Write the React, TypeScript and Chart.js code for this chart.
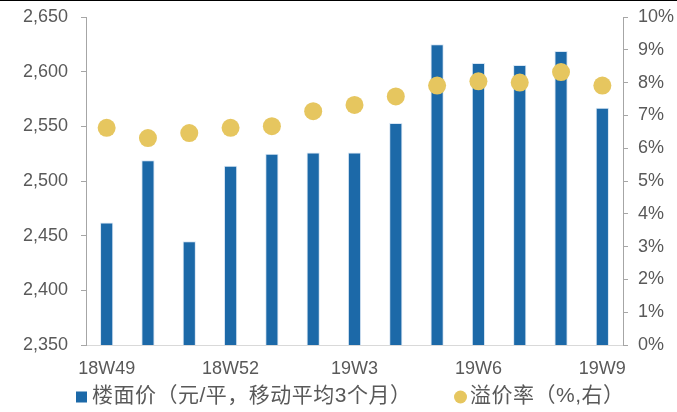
import { useEffect, useRef } from "react";
import { Chart, registerables } from "chart.js";

Chart.register(...registerables);

const categories = ["18W49", "18W50", "18W51", "18W52", "19W1", "19W2", "19W3", "19W4", "19W5", "19W6", "19W7", "19W8", "19W9"];
const floorPrice = [2462, 2519, 2445, 2514, 2525, 2526, 2526, 2553, 2625, 2608, 2606, 2619, 2567];
const premiumRate = [6.62, 6.31, 6.46, 6.62, 6.67, 7.13, 7.32, 7.58, 7.91, 8.04, 8.0, 8.32, 7.91];
const seriesLabels = ["楼面价（元/平，移动平均3个月）", "溢价率（%,右）"];

const BAR_COLOR = "#1c69a8";
const DOT_COLOR = "#e6c65f";
const TEXT_COLOR = "#595959";
const AXIS_COLOR = "#a6a6a6";
const TICK_FONT = { family: "'Liberation Sans', Arial, sans-serif", size: 18 };
const LEGEND_FONT = "21px 'Liberation Sans', 'Noto Sans CJK SC', sans-serif";

const legendPlugin = {
  id: "customLegend",
  afterDraw(chart: any) {
    const ctx = chart.ctx as CanvasRenderingContext2D;
    const ca = chart.chartArea;
    const ds = chart.data.datasets;
    const y = 397;
    ctx.save();
    ctx.font = LEGEND_FONT;
    ctx.textBaseline = "middle";
    ctx.textAlign = "left";
    (ctx as any).letterSpacing = "0.5px";
    let x = ca.left - 10;
    ctx.fillStyle = ds[0].backgroundColor;
    ctx.fillRect(x, y - 5.5, 11, 11);
    ctx.fillStyle = TEXT_COLOR;
    ctx.fillText(ds[0].label, x + 16, y - 1);
    x = ca.left + 368;
    ctx.fillStyle = ds[1].backgroundColor;
    ctx.beginPath();
    ctx.arc(x + 6.5, y, 6.5, 0, Math.PI * 2);
    ctx.fill();
    ctx.fillStyle = TEXT_COLOR;
    ctx.fillText(ds[1].label, x + 16, y - 1);
    ctx.restore();
  },
};

export default function App() {
  const canvasRef = useRef<HTMLCanvasElement | null>(null);

  useEffect(() => {
    if (!canvasRef.current) return;
    const chart = new Chart(canvasRef.current, {
      type: "bar",
      data: {
        labels: categories,
        datasets: [
          {
            type: "bar",
            label: seriesLabels[0],
            data: floorPrice,
            backgroundColor: BAR_COLOR,
            borderColor: "rgba(200,220,240,0.7)",
            borderWidth: { top: 1, left: 1, right: 1, bottom: 0 },
            barPercentage: 0.32,
            categoryPercentage: 1,
            yAxisID: "y",
            order: 2,
          },
          {
            type: "line",
            label: seriesLabels[1],
            data: premiumRate,
            showLine: false,
            backgroundColor: DOT_COLOR,
            borderColor: DOT_COLOR,
            pointRadius: 9,
            pointBorderWidth: 0,
            pointHoverRadius: 9,
            yAxisID: "y1",
            order: 1,
          },
        ],
      },
      options: {
        responsive: false,
        animation: false,
        layout: { padding: { top: 17, left: 0, right: 0, bottom: 27 } },
        plugins: {
          legend: { display: false },
          tooltip: { enabled: false },
        },
        scales: {
          x: {
            grid: { display: false, drawTicks: false },
            border: { display: true, color: "#d9d9d9", width: 1 },
            ticks: {
              autoSkip: false,
              maxRotation: 0,
              minRotation: 0,
              padding: 13,
              color: TEXT_COLOR,
              font: TICK_FONT,
              callback: (_v: any, i: number) => (i % 3 === 0 ? categories[i] : ""),
            },
            afterFit: (s: any) => {
              s.height = 40;
              s.paddingLeft = 0;
              s.paddingRight = 0;
            },
          },
          y: {
            position: "left",
            min: 2350,
            max: 2650,
            ticks: {
              stepSize: 50,
              padding: 13,
              color: TEXT_COLOR,
              font: TICK_FONT,
              callback: (v: any) => Number(v).toLocaleString("en-US"),
            },
            grid: { drawOnChartArea: false, color: AXIS_COLOR, tickLength: 5 },
            border: { color: AXIS_COLOR, width: 1 },
            afterFit: (s: any) => {
              s.width = 86;
              s.paddingTop = 0;
              s.paddingBottom = 0;
            },
          },
          y1: {
            position: "right",
            min: 0,
            max: 10,
            ticks: {
              stepSize: 1,
              padding: 10,
              color: TEXT_COLOR,
              font: TICK_FONT,
              callback: (v: any) => `${v}%`,
            },
            grid: { drawOnChartArea: false, color: AXIS_COLOR, tickLength: 5 },
            border: { color: AXIS_COLOR, width: 1 },
            afterFit: (s: any) => {
              s.width = 54;
              s.paddingTop = 0;
              s.paddingBottom = 0;
            },
          },
        },
      },
      plugins: [legendPlugin],
    });
    return () => chart.destroy();
  }, []);

  return (
    <div style={{ position: "absolute", left: 0, top: 0, width: 677, height: 412, background: "#fff" }}>
      <canvas ref={canvasRef} width={677} height={412} style={{ display: "block" }} />
      <div style={{ position: "absolute", left: 0, top: 0, width: 677, height: 1, background: "#000" }} />
    </div>
  );
}
